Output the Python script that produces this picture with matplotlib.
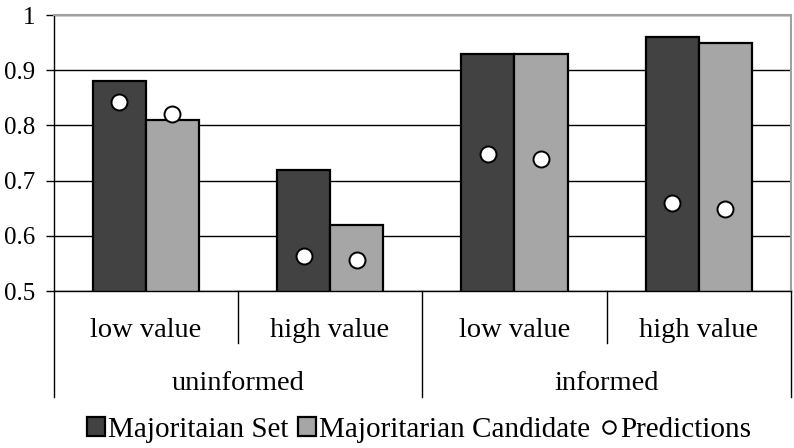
import matplotlib
matplotlib.use("Agg")
import matplotlib.pyplot as plt
import matplotlib.transforms as mtransforms
from matplotlib.lines import Line2D
from matplotlib.patches import Patch
import numpy as np

plt.rcParams['font.family'] = ['Liberation Serif', 'DejaVu Serif']

sub_labels = ["low value", "high value", "low value", "high value"]
group_labels = ["uninformed", "informed"]
majoritarian_set = [0.88, 0.72, 0.93, 0.96]
majoritarian_candidate = [0.81, 0.62, 0.93, 0.95]
pred_set = [0.842, 0.563, 0.748, 0.659]
pred_candidate = [0.821, 0.557, 0.740, 0.648]
yticks = [0.5, 0.6, 0.7, 0.8, 0.9, 1.0]
ytick_labels = ["0.5", "0.6", "0.7", "0.8", "0.9", "1"]

W, H = 794, 448
fig = plt.figure(figsize=(W / 100, H / 100), dpi=100)
left, right, top, bottom = 53.5, 791, 15, 291
ax = fig.add_axes([left / W, 1 - bottom / H, (right - left) / W, (bottom - top) / H])

x = np.arange(len(sub_labels))
bw = 0.288
dark = "#424242"
light = "#a6a6a6"

ax.set_axisbelow(True)
ax.yaxis.grid(True, color="black", linewidth=1.0)
ax.bar(x - bw / 2, majoritarian_set, bw, color=dark, edgecolor="black", linewidth=1.6, zorder=2)
ax.bar(x + bw / 2, majoritarian_candidate, bw, color=light, edgecolor="black", linewidth=1.6, zorder=2)
ax.plot(x - bw / 2, pred_set, "o", ms=11.5, mfc="white", mec="black", mew=1.4, zorder=3)
ax.plot(x + bw / 2, pred_candidate, "o", ms=11.5, mfc="white", mec="black", mew=1.4, zorder=3)

ax.set_ylim(0.5, 1.0)
ax.set_xlim(-0.5, 3.5)
ax.set_yticks(yticks)
ax.set_yticklabels(ytick_labels, fontsize=18)
ax.tick_params(axis="y", direction="out", length=6, width=1.0, pad=7, color="black")
ax.set_xticks([])

for s in ["top", "right"]:
    ax.spines[s].set_color("#a0a0a0")
    ax.spines[s].set_linewidth(1.5)
ax.spines["left"].set_color("black")
ax.spines["bottom"].set_color("black")
ax.spines["left"].set_linewidth(1.0)
ax.spines["bottom"].set_linewidth(1.0)

ah = bottom - top
trans = mtransforms.blended_transform_factory(ax.transData, ax.transAxes)
inner_y = -(343 - bottom) / ah
outer_y = -(397 - bottom) / ah
for xb in [-0.5, 1.5, 3.5]:
    ax.add_line(Line2D([xb, xb], [0, outer_y], transform=trans, color="black", lw=1.0, clip_on=False))
for xb in [0.5, 2.5]:
    ax.add_line(Line2D([xb, xb], [0, inner_y], transform=trans, color="black", lw=1.0, clip_on=False))

for xi, lab in zip(x, sub_labels):
    ax.text(xi, -(337 - bottom) / ah, lab, transform=trans, ha="center", va="baseline", fontsize=20.5)
for gi, lab in enumerate(group_labels):
    ax.text(2 * gi + 0.5, -(390 - bottom) / ah, lab, transform=trans, ha="center", va="baseline", fontsize=20.5)

handles = [
    Patch(facecolor=dark, edgecolor="black", linewidth=1.6, label="Majoritaian Set"),
    Patch(facecolor=light, edgecolor="black", linewidth=1.6, label="Majoritarian Candidate"),
    Line2D([], [], marker="o", ls="none", ms=9, mfc="white", mec="black", mew=1.4, label="Predictions"),
]
fig.legend(handles=handles, loc="center", bbox_to_anchor=(419.5 / W, 1 - 430 / H),
           ncol=3, frameon=False, fontsize=21, handlelength=0.6, handleheight=0.65,
           handletextpad=0.1, columnspacing=0.35, borderpad=0)

fig.savefig("out.png", dpi=100)
